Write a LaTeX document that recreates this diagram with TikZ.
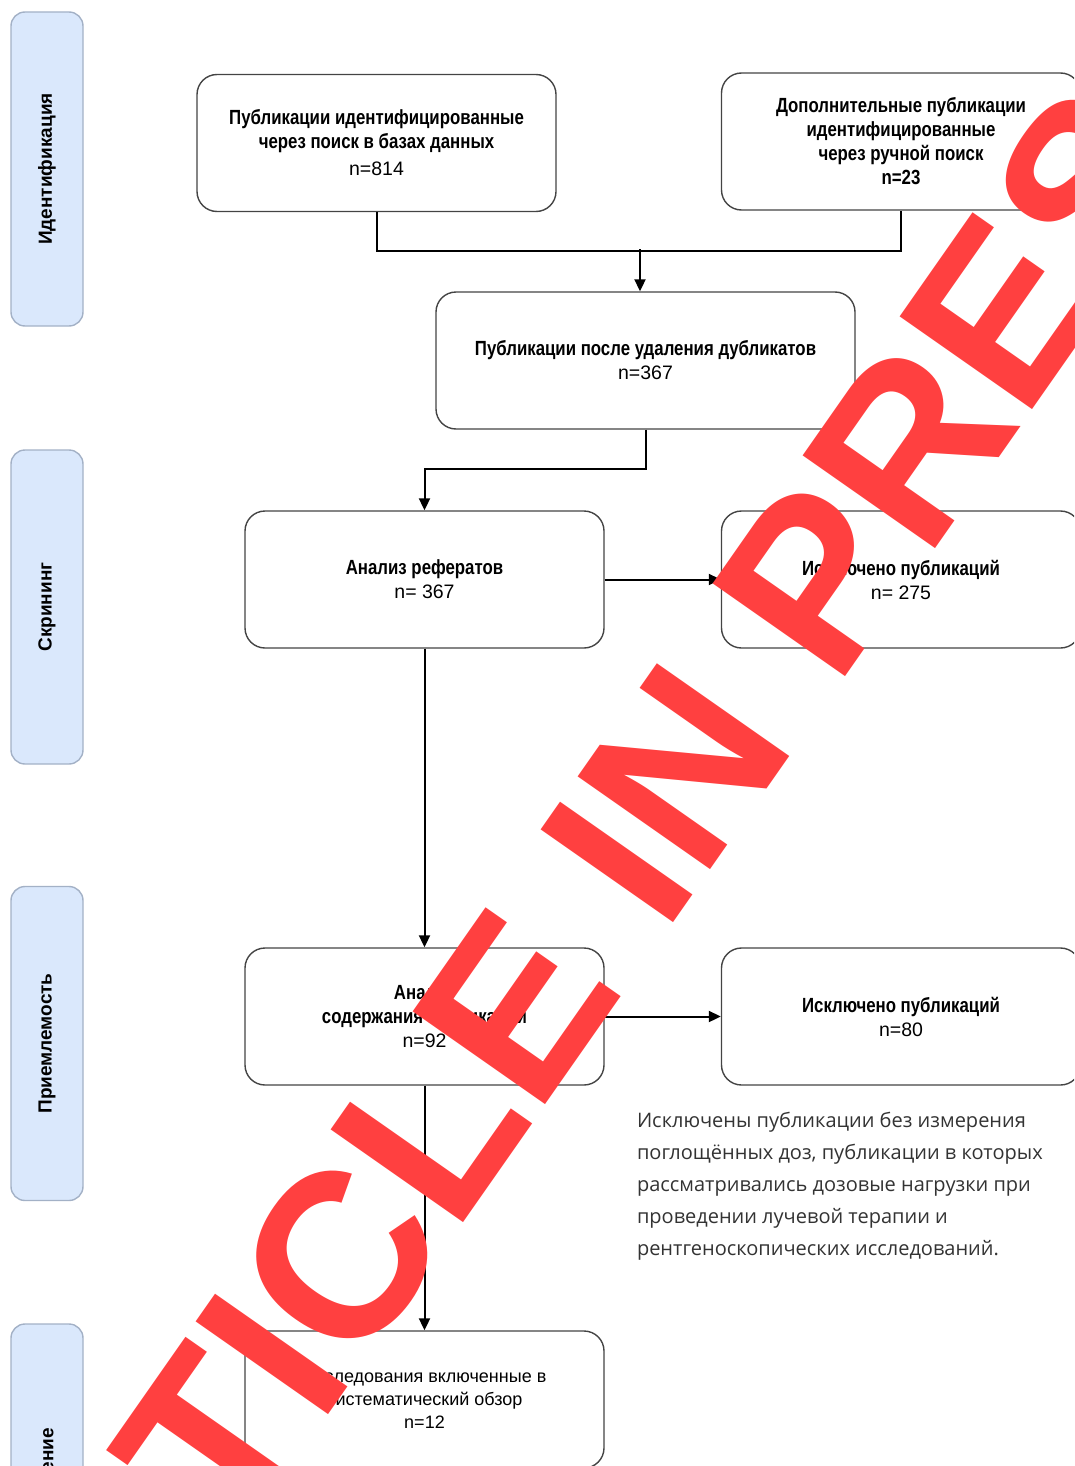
\documentclass[tikz,border=0pt]{standalone}
\usepackage{fontspec}
\setmainfont{Liberation Sans}
\newfontfamily\narrowfont[FakeStretch=0.82]{Liberation Sans}
\newfontfamily\notefont{Open Sans}
\usetikzlibrary{arrows.meta,positioning}
\definecolor{lanefill}{HTML}{DAE8FC}
\definecolor{lanedraw}{HTML}{A3B1C6}
\definecolor{boxdraw}{HTML}{444444}
\definecolor{wmred}{HTML}{FF4040}
\newcommand\ncount[1]{{\normalfont\mdseries\fontsize{19.5}{24}\selectfont #1}}
\tikzset{
every picture/.style={line width=2pt, >={Triangle[length=12pt,width=11pt]}},
%%%%%%%%%% Node styles
stepbox/.style={draw=boxdraw, line width=1.4pt, rounded corners=20pt,
                minimum width=359pt, minimum height=137pt, align=center,
                inner sep=0pt, font=\narrowfont\bfseries\fontsize{20.5}{24}\selectfont},
lane/.style={draw=lanedraw, fill=lanefill, line width=1.4pt,
             rounded corners=14pt, minimum width=72pt, minimum height=314pt},
lanetext/.style={rotate=90, font=\bfseries\fontsize{19}{21}\selectfont},
note/.style={align=left, inner sep=0pt, text=black!80,
             font=\notefont\fontsize{20}{32}\selectfont},
watermark/.style={text=wmred, inner sep=0pt, rotate=55, anchor=base,
                  font=\bfseries\fontsize{235}{235}\selectfont}
}
\begin{document}
\begin{tikzpicture}[x=1pt,y=-1pt]
\useasboundingbox (0,0) rectangle (1074,1466);
\clip (0,0) rectangle (1074,1466);
%%%%%%% lanes
\node[lane] (l1) at (47,169) {};
\node[lane] (l2) at (47,607) {};
\node[lane] (l3) at (47,1043.5) {};
\node[lane] (l4) at (47,1481) {};
\node[lanetext] (t1) at (l1) {Идентификация};
\node[lanetext] (t2) at (l2) {Скрининг};
\node[lanetext] (t3) at (l3) {Приемлемость};
\node[lanetext] (t4) at (l4) {Включение};
%%%%%%% boxes
\node[stepbox] (b1) at (376.5,143) {Публикации идентифицированные\\через поиск в базах данных\\[3pt]\ncount{n=814}};
\node[stepbox] (b2) at (901,141.5) {Дополнительные публикации\\идентифицированные\\через ручной поиск\\n=23};
\node[stepbox, minimum width=419pt] (b3) at (645.5,360.5) {Публикации после удаления дубликатов\\\ncount{n=367}};
\node[stepbox] (b4) at (424.5,579.5) {Анализ рефератов\\\ncount{n= 367}};
\node[stepbox] (b5) at (901,579.5) {Исключено публикаций\\\ncount{n= 275}};
\node[stepbox] (b6) at (424.5,1016.5) {Анализ\\содержания публикаций\\\ncount{n=92}};
\node[stepbox] (b7) at (901,1016.5) {Исключено публикаций\\\ncount{n=80}};
\node[stepbox, font=\fontsize{18}{23}\selectfont] (b8) at (424.5,1399.5) {Исследования включенные в\\систематический обзор\\n=12};
\node[note, anchor=north west] (n1) at (636,1111) {Исключены публикации без измерения\\поглощённых доз, публикации в которых\\рассматривались дозовые нагрузки при\\проведении лучевой терапии и\\рентгеноскопических исследований.};
%%%%%%% connectors
\coordinate (m1) at (640,249);
\draw (b1.south) -- ++(0,39) -| (b2.south);
\draw[->] (m1) -- (m1 |- b3.north);
\draw[->] (b3.south) -- ++(0,39) -| (b4.north);
\draw[->] (b4.east) -- (b5.west);
\draw[->] (b4.south) -- (b6.north);
\draw[->] (b6.east) -- (b7.west);
\draw[->] (b6.south) -- (b8.north);
%%%%%%% watermark
\node[watermark] (wm) at (668,930) {ARTICLE IN PRESS};
\end{tikzpicture}
\end{document}
